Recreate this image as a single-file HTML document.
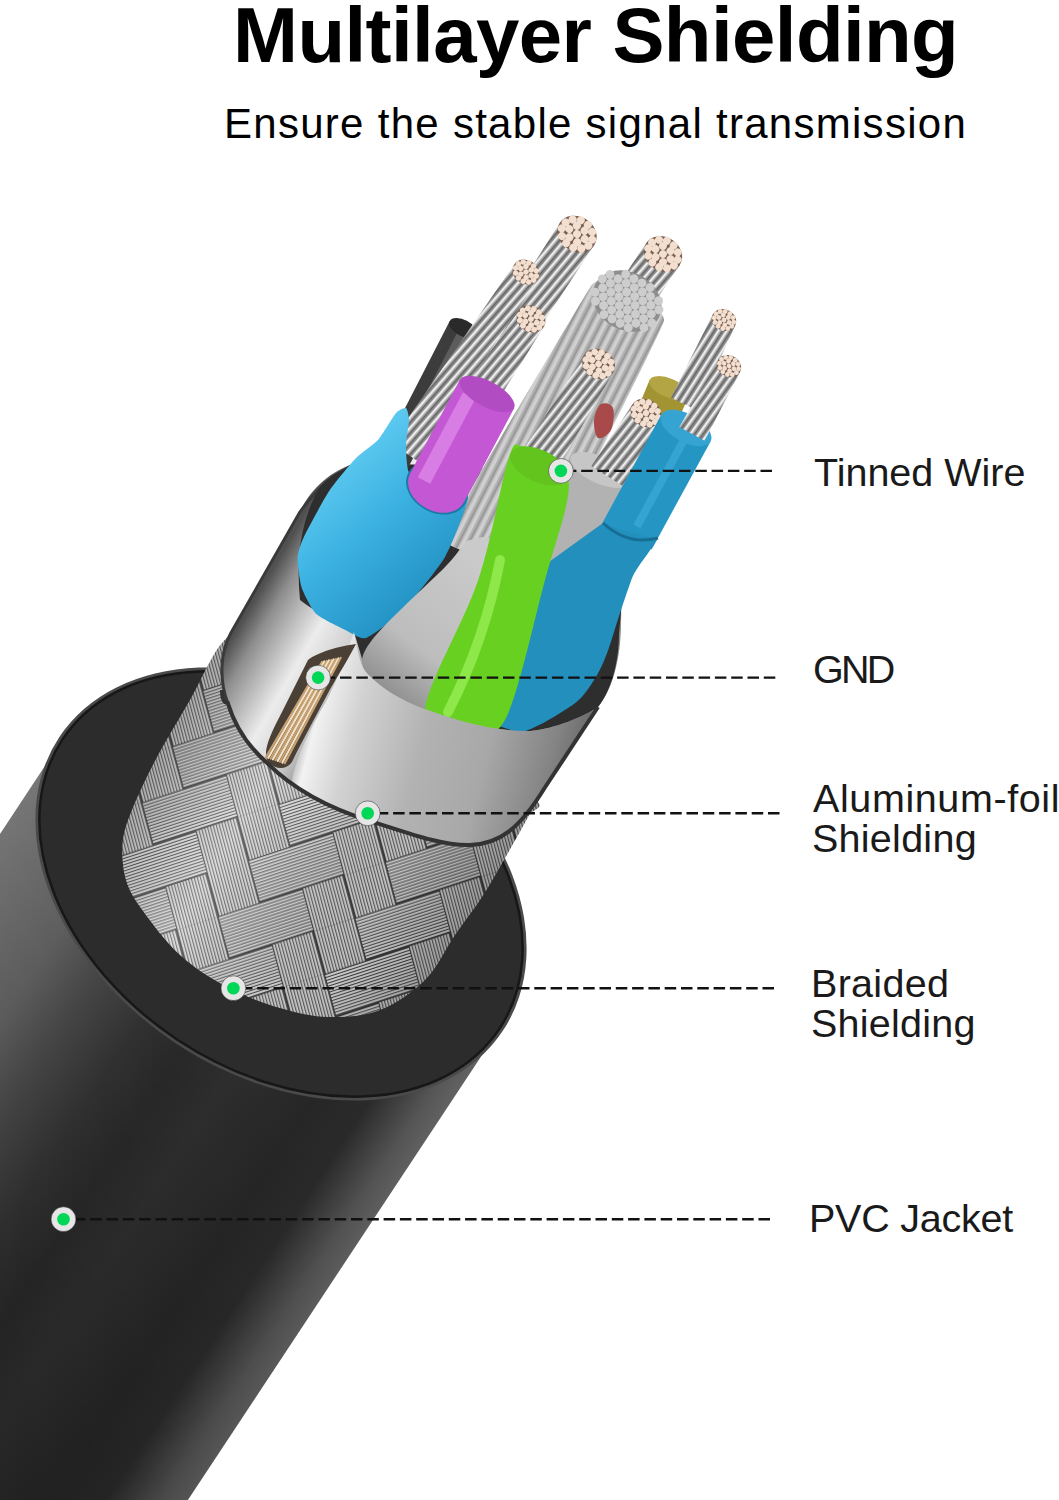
<!DOCTYPE html><html><head><meta charset="utf-8"><style>
html,body{margin:0;padding:0;background:#fff;width:1059px;height:1500px;overflow:hidden;position:relative}
.t,.l{position:absolute;white-space:nowrap;font-family:"Liberation Sans",sans-serif;line-height:1}
.t{color:#000}
.l{font-size:39.5px;line-height:40px;color:#1a1a1a}
</style></head><body>
<svg width="1059" height="1500" viewBox="0 0 1059 1500" style="position:absolute;left:0;top:0"><defs><linearGradient id="gJ" gradientUnits="userSpaceOnUse" x1="62.4" y1="739.5" x2="499.6" y2="1028.5">
<stop offset="0" stop-color="#787878"/><stop offset="0.2" stop-color="#626262"/><stop offset="0.3" stop-color="#4a4a4a"/><stop offset="0.42" stop-color="#343434"/>
<stop offset="0.52" stop-color="#2a2a2a"/><stop offset="0.62" stop-color="#303030"/><stop offset="0.78" stop-color="#282828"/>
<stop offset="0.87" stop-color="#2c2c2c"/><stop offset="0.96" stop-color="#585858"/><stop offset="1" stop-color="#646464"/></linearGradient><linearGradient id="gJv" gradientUnits="userSpaceOnUse" x1="281" y1="884" x2="-105.1" y2="1467.9">
<stop offset="0" stop-color="#000" stop-opacity="0"/><stop offset="1" stop-color="#000" stop-opacity="0.2"/></linearGradient><pattern id="pW" patternUnits="userSpaceOnUse" width="176" height="176" patternTransform="matrix(0.95 -0.31 0.26 0.966 20 10)">
<rect width="176" height="176" fill="#3c3c3c"/>
<g fill="#dcdcdc"><rect x="0" y="1.2" width="44" height="2"/><rect x="0" y="4.2" width="44" height="2"/><rect x="0" y="7.2" width="44" height="2"/><rect x="0" y="10.2" width="44" height="2"/><rect x="0" y="13.2" width="44" height="2"/><rect x="0" y="16.2" width="44" height="2"/><rect x="0" y="19.2" width="44" height="2"/><rect x="0" y="22.2" width="44" height="2"/><rect x="0" y="25.2" width="44" height="2"/><rect x="0" y="28.2" width="44" height="2"/><rect x="0" y="31.2" width="44" height="2"/><rect x="0" y="34.2" width="44" height="2"/><rect x="0" y="37.2" width="44" height="2"/><rect x="0" y="40.2" width="44" height="2"/><rect x="0" y="45.2" width="44" height="2"/><rect x="0" y="48.2" width="44" height="2"/><rect x="0" y="51.2" width="44" height="2"/><rect x="0" y="54.2" width="44" height="2"/><rect x="0" y="57.2" width="44" height="2"/><rect x="0" y="60.2" width="44" height="2"/><rect x="0" y="63.2" width="44" height="2"/><rect x="0" y="66.2" width="44" height="2"/><rect x="0" y="69.2" width="44" height="2"/><rect x="0" y="72.2" width="44" height="2"/><rect x="0" y="75.2" width="44" height="2"/><rect x="0" y="78.2" width="44" height="2"/><rect x="0" y="81.2" width="44" height="2"/><rect x="0" y="84.2" width="44" height="2"/><rect x="1.2" y="88" width="2" height="44"/><rect x="4.2" y="88" width="2" height="44"/><rect x="7.2" y="88" width="2" height="44"/><rect x="10.2" y="88" width="2" height="44"/><rect x="13.2" y="88" width="2" height="44"/><rect x="16.2" y="88" width="2" height="44"/><rect x="19.2" y="88" width="2" height="44"/><rect x="22.2" y="88" width="2" height="44"/><rect x="25.2" y="88" width="2" height="44"/><rect x="28.2" y="88" width="2" height="44"/><rect x="31.2" y="88" width="2" height="44"/><rect x="34.2" y="88" width="2" height="44"/><rect x="37.2" y="88" width="2" height="44"/><rect x="40.2" y="88" width="2" height="44"/><rect x="1.2" y="132" width="2" height="44"/><rect x="4.2" y="132" width="2" height="44"/><rect x="7.2" y="132" width="2" height="44"/><rect x="10.2" y="132" width="2" height="44"/><rect x="13.2" y="132" width="2" height="44"/><rect x="16.2" y="132" width="2" height="44"/><rect x="19.2" y="132" width="2" height="44"/><rect x="22.2" y="132" width="2" height="44"/><rect x="25.2" y="132" width="2" height="44"/><rect x="28.2" y="132" width="2" height="44"/><rect x="31.2" y="132" width="2" height="44"/><rect x="34.2" y="132" width="2" height="44"/><rect x="37.2" y="132" width="2" height="44"/><rect x="40.2" y="132" width="2" height="44"/><rect x="44" y="1.2" width="44" height="2"/><rect x="44" y="4.2" width="44" height="2"/><rect x="44" y="7.2" width="44" height="2"/><rect x="44" y="10.2" width="44" height="2"/><rect x="44" y="13.2" width="44" height="2"/><rect x="44" y="16.2" width="44" height="2"/><rect x="44" y="19.2" width="44" height="2"/><rect x="44" y="22.2" width="44" height="2"/><rect x="44" y="25.2" width="44" height="2"/><rect x="44" y="28.2" width="44" height="2"/><rect x="44" y="31.2" width="44" height="2"/><rect x="44" y="34.2" width="44" height="2"/><rect x="44" y="37.2" width="44" height="2"/><rect x="44" y="40.2" width="44" height="2"/><rect x="45.2" y="44" width="2" height="44"/><rect x="48.2" y="44" width="2" height="44"/><rect x="51.2" y="44" width="2" height="44"/><rect x="54.2" y="44" width="2" height="44"/><rect x="57.2" y="44" width="2" height="44"/><rect x="60.2" y="44" width="2" height="44"/><rect x="63.2" y="44" width="2" height="44"/><rect x="66.2" y="44" width="2" height="44"/><rect x="69.2" y="44" width="2" height="44"/><rect x="72.2" y="44" width="2" height="44"/><rect x="75.2" y="44" width="2" height="44"/><rect x="78.2" y="44" width="2" height="44"/><rect x="81.2" y="44" width="2" height="44"/><rect x="84.2" y="44" width="2" height="44"/><rect x="45.2" y="88" width="2" height="44"/><rect x="48.2" y="88" width="2" height="44"/><rect x="51.2" y="88" width="2" height="44"/><rect x="54.2" y="88" width="2" height="44"/><rect x="57.2" y="88" width="2" height="44"/><rect x="60.2" y="88" width="2" height="44"/><rect x="63.2" y="88" width="2" height="44"/><rect x="66.2" y="88" width="2" height="44"/><rect x="69.2" y="88" width="2" height="44"/><rect x="72.2" y="88" width="2" height="44"/><rect x="75.2" y="88" width="2" height="44"/><rect x="78.2" y="88" width="2" height="44"/><rect x="81.2" y="88" width="2" height="44"/><rect x="84.2" y="88" width="2" height="44"/><rect x="44" y="133.2" width="44" height="2"/><rect x="44" y="136.2" width="44" height="2"/><rect x="44" y="139.2" width="44" height="2"/><rect x="44" y="142.2" width="44" height="2"/><rect x="44" y="145.2" width="44" height="2"/><rect x="44" y="148.2" width="44" height="2"/><rect x="44" y="151.2" width="44" height="2"/><rect x="44" y="154.2" width="44" height="2"/><rect x="44" y="157.2" width="44" height="2"/><rect x="44" y="160.2" width="44" height="2"/><rect x="44" y="163.2" width="44" height="2"/><rect x="44" y="166.2" width="44" height="2"/><rect x="44" y="169.2" width="44" height="2"/><rect x="44" y="172.2" width="44" height="2"/><rect x="89.2" y="0" width="2" height="44"/><rect x="92.2" y="0" width="2" height="44"/><rect x="95.2" y="0" width="2" height="44"/><rect x="98.2" y="0" width="2" height="44"/><rect x="101.2" y="0" width="2" height="44"/><rect x="104.2" y="0" width="2" height="44"/><rect x="107.2" y="0" width="2" height="44"/><rect x="110.2" y="0" width="2" height="44"/><rect x="113.2" y="0" width="2" height="44"/><rect x="116.2" y="0" width="2" height="44"/><rect x="119.2" y="0" width="2" height="44"/><rect x="122.2" y="0" width="2" height="44"/><rect x="125.2" y="0" width="2" height="44"/><rect x="128.2" y="0" width="2" height="44"/><rect x="89.2" y="44" width="2" height="44"/><rect x="92.2" y="44" width="2" height="44"/><rect x="95.2" y="44" width="2" height="44"/><rect x="98.2" y="44" width="2" height="44"/><rect x="101.2" y="44" width="2" height="44"/><rect x="104.2" y="44" width="2" height="44"/><rect x="107.2" y="44" width="2" height="44"/><rect x="110.2" y="44" width="2" height="44"/><rect x="113.2" y="44" width="2" height="44"/><rect x="116.2" y="44" width="2" height="44"/><rect x="119.2" y="44" width="2" height="44"/><rect x="122.2" y="44" width="2" height="44"/><rect x="125.2" y="44" width="2" height="44"/><rect x="128.2" y="44" width="2" height="44"/><rect x="88" y="89.2" width="44" height="2"/><rect x="88" y="92.2" width="44" height="2"/><rect x="88" y="95.2" width="44" height="2"/><rect x="88" y="98.2" width="44" height="2"/><rect x="88" y="101.2" width="44" height="2"/><rect x="88" y="104.2" width="44" height="2"/><rect x="88" y="107.2" width="44" height="2"/><rect x="88" y="110.2" width="44" height="2"/><rect x="88" y="113.2" width="44" height="2"/><rect x="88" y="116.2" width="44" height="2"/><rect x="88" y="119.2" width="44" height="2"/><rect x="88" y="122.2" width="44" height="2"/><rect x="88" y="125.2" width="44" height="2"/><rect x="88" y="128.2" width="44" height="2"/><rect x="88" y="133.2" width="44" height="2"/><rect x="88" y="136.2" width="44" height="2"/><rect x="88" y="139.2" width="44" height="2"/><rect x="88" y="142.2" width="44" height="2"/><rect x="88" y="145.2" width="44" height="2"/><rect x="88" y="148.2" width="44" height="2"/><rect x="88" y="151.2" width="44" height="2"/><rect x="88" y="154.2" width="44" height="2"/><rect x="88" y="157.2" width="44" height="2"/><rect x="88" y="160.2" width="44" height="2"/><rect x="88" y="163.2" width="44" height="2"/><rect x="88" y="166.2" width="44" height="2"/><rect x="88" y="169.2" width="44" height="2"/><rect x="88" y="172.2" width="44" height="2"/><rect x="133.2" y="0" width="2" height="44"/><rect x="136.2" y="0" width="2" height="44"/><rect x="139.2" y="0" width="2" height="44"/><rect x="142.2" y="0" width="2" height="44"/><rect x="145.2" y="0" width="2" height="44"/><rect x="148.2" y="0" width="2" height="44"/><rect x="151.2" y="0" width="2" height="44"/><rect x="154.2" y="0" width="2" height="44"/><rect x="157.2" y="0" width="2" height="44"/><rect x="160.2" y="0" width="2" height="44"/><rect x="163.2" y="0" width="2" height="44"/><rect x="166.2" y="0" width="2" height="44"/><rect x="169.2" y="0" width="2" height="44"/><rect x="172.2" y="0" width="2" height="44"/><rect x="132" y="45.2" width="44" height="2"/><rect x="132" y="48.2" width="44" height="2"/><rect x="132" y="51.2" width="44" height="2"/><rect x="132" y="54.2" width="44" height="2"/><rect x="132" y="57.2" width="44" height="2"/><rect x="132" y="60.2" width="44" height="2"/><rect x="132" y="63.2" width="44" height="2"/><rect x="132" y="66.2" width="44" height="2"/><rect x="132" y="69.2" width="44" height="2"/><rect x="132" y="72.2" width="44" height="2"/><rect x="132" y="75.2" width="44" height="2"/><rect x="132" y="78.2" width="44" height="2"/><rect x="132" y="81.2" width="44" height="2"/><rect x="132" y="84.2" width="44" height="2"/><rect x="132" y="89.2" width="44" height="2"/><rect x="132" y="92.2" width="44" height="2"/><rect x="132" y="95.2" width="44" height="2"/><rect x="132" y="98.2" width="44" height="2"/><rect x="132" y="101.2" width="44" height="2"/><rect x="132" y="104.2" width="44" height="2"/><rect x="132" y="107.2" width="44" height="2"/><rect x="132" y="110.2" width="44" height="2"/><rect x="132" y="113.2" width="44" height="2"/><rect x="132" y="116.2" width="44" height="2"/><rect x="132" y="119.2" width="44" height="2"/><rect x="132" y="122.2" width="44" height="2"/><rect x="132" y="125.2" width="44" height="2"/><rect x="132" y="128.2" width="44" height="2"/><rect x="133.2" y="132" width="2" height="44"/><rect x="136.2" y="132" width="2" height="44"/><rect x="139.2" y="132" width="2" height="44"/><rect x="142.2" y="132" width="2" height="44"/><rect x="145.2" y="132" width="2" height="44"/><rect x="148.2" y="132" width="2" height="44"/><rect x="151.2" y="132" width="2" height="44"/><rect x="154.2" y="132" width="2" height="44"/><rect x="157.2" y="132" width="2" height="44"/><rect x="160.2" y="132" width="2" height="44"/><rect x="163.2" y="132" width="2" height="44"/><rect x="166.2" y="132" width="2" height="44"/><rect x="169.2" y="132" width="2" height="44"/><rect x="172.2" y="132" width="2" height="44"/></g></pattern><linearGradient id="gBs" gradientUnits="userSpaceOnUse" x1="120" y1="760" x2="540" y2="1000">
<stop offset="0" stop-color="#000" stop-opacity="0.25"/><stop offset="0.28" stop-color="#fff" stop-opacity="0.22"/><stop offset="0.6" stop-color="#000" stop-opacity="0.08"/><stop offset="1" stop-color="#000" stop-opacity="0.45"/></linearGradient><linearGradient id="gT" gradientUnits="userSpaceOnUse" x1="228" y1="645" x2="348" y2="715">
<stop offset="0" stop-color="#505050"/><stop offset="0.15" stop-color="#8e8e8e"/><stop offset="0.5" stop-color="#ececec"/><stop offset="0.75" stop-color="#d0d0d0"/><stop offset="1" stop-color="#8a8a8a"/></linearGradient><pattern id="pS" patternUnits="userSpaceOnUse" width="7" height="40" patternTransform="rotate(7)">
<rect width="7" height="40" fill="#959595"/><rect x="0" width="2.4" height="40" fill="#ececec"/><rect x="4.2" width="1.1" height="40" fill="#555"/></pattern><pattern id="pE" patternUnits="userSpaceOnUse" width="9" height="40" patternTransform="rotate(27)">
<rect width="9" height="40" fill="#b2b2b2"/><rect x="0.5" width="3.5" height="40" fill="#d0d0d0"/><rect x="6.5" width="1.2" height="40" fill="#8a8a8a"/></pattern><linearGradient id="gBl" gradientUnits="userSpaceOnUse" x1="320" y1="450" x2="450" y2="600">
<stop offset="0" stop-color="#66d0f4"/><stop offset="0.45" stop-color="#3cb2e2"/><stop offset="1" stop-color="#1d8cbd"/></linearGradient><linearGradient id="gLG" gradientUnits="userSpaceOnUse" x1="380" y1="690" x2="480" y2="560"><stop offset="0" stop-color="#8e8e8e"/><stop offset="0.35" stop-color="#bdbdbd"/><stop offset="1" stop-color="#cacaca"/></linearGradient><linearGradient id="gFf" gradientUnits="userSpaceOnUse" x1="290" y1="720" x2="600" y2="800">
<stop offset="0" stop-color="#7a7a7a"/><stop offset="0.08" stop-color="#f2f2f2"/><stop offset="0.2" stop-color="#d2d2d2"/><stop offset="0.42" stop-color="#b2b2b2"/>
<stop offset="0.62" stop-color="#a8a8a8"/><stop offset="0.82" stop-color="#848484"/><stop offset="1" stop-color="#555"/></linearGradient></defs><path d="M62.4,739.5 L499.6,1028.5 L3.2,1779.3 L-433.9,1490.3Z" fill="url(#gJ)"/><path d="M62.4,739.5 L499.6,1028.5 L3.2,1779.3 L-433.9,1490.3Z" fill="url(#gJv)"/><ellipse cx="281" cy="884" rx="266" ry="191" transform="rotate(33.5 281 884)" fill="#4a4a4a" /><ellipse cx="281" cy="884" rx="262" ry="187" transform="rotate(33.5 281 884)" fill="#2c2c2c" stroke="#171717" stroke-width="2.5"/><path d="M262,630 C249.4,620 236.6,628.3 224.6,640 C212.6,651.7 201.3,680.3 190,700 C178.7,719.7 166.3,739.7 156.6,758 C146.9,776.3 137.7,795.8 132,810 C126.3,824.2 123.7,831.3 122.7,843 C121.7,854.7 122.6,868.7 126,880 C129.4,891.3 134,898.5 143,911 C152,923.5 166,942.3 180,955 C194,967.7 210.3,978.2 227,987 C243.7,995.8 263,1003 280,1008 C297,1013 312.3,1016.7 329,1017 C345.7,1017.3 364,1016.2 380,1010 C396,1003.8 412.5,992.5 425,980 C437.5,967.5 445.5,948.8 455,935 C464.5,921.2 473.7,909.8 482,897 C490.3,884.2 497.3,871.3 505,858 C512.7,844.7 522.8,826.7 528,817 C533.2,807.3 545.7,809.5 536,800 C526.3,790.5 509.3,776.7 470,760 C430.7,743.3 334.7,721.7 300,700 C265.3,678.3 274.6,640 262,630Z" fill="url(#pW)" /><path d="M262,630 C249.4,620 236.6,628.3 224.6,640 C212.6,651.7 201.3,680.3 190,700 C178.7,719.7 166.3,739.7 156.6,758 C146.9,776.3 137.7,795.8 132,810 C126.3,824.2 123.7,831.3 122.7,843 C121.7,854.7 122.6,868.7 126,880 C129.4,891.3 134,898.5 143,911 C152,923.5 166,942.3 180,955 C194,967.7 210.3,978.2 227,987 C243.7,995.8 263,1003 280,1008 C297,1013 312.3,1016.7 329,1017 C345.7,1017.3 364,1016.2 380,1010 C396,1003.8 412.5,992.5 425,980 C437.5,967.5 445.5,948.8 455,935 C464.5,921.2 473.7,909.8 482,897 C490.3,884.2 497.3,871.3 505,858 C512.7,844.7 522.8,826.7 528,817 C533.2,807.3 545.7,809.5 536,800 C526.3,790.5 509.3,776.7 470,760 C430.7,743.3 334.7,721.7 300,700 C265.3,678.3 274.6,640 262,630Z" fill="url(#gBs)" /><path d="M357.9,462.5 C330,470 310,490 299.7,512.3 L231,632.8 C220,652 219,680 227.8,703 C236,730 250,748 267,762.8 C290,786 325,807 371,821.3 C400,830 440,846 470,845 C500,844 520,828 544.6,788 L598,707 C612,690 621,660 621,622 C622,600 620,580 610,560 C585,520 520,470 440,458 C400,453 375,456 357.9,462.5 Z" fill="url(#gT)"/><path d="M380,457 C360,460 330,470 299.7,512.3 L231,632.8 C220,652 219,680 227.8,703" fill="none" stroke="#3a3a3a" stroke-width="3"/><path d="M300,600 C296,560 300,520 320,487 C335,470 350,466 362,466 C420,460 500,468 553,496 C595,520 621,560 622,600 L619,634 C619,660 612,690 598,707 C585,716 555,729 530,731 C500,732 460,722 431,711 C400,697 370,680 366,672 L354,632 C340,625 315,612 300,600 Z" fill="#2e2e2e"/><g transform="translate(463,328) rotate(27.2)"><rect x="-15" y="0" width="30" height="159.7" fill="#3c3c3c"/><rect x="-3" y="6" width="8" height="150" fill="#5c5c5c"/><ellipse rx="15" ry="8.2" fill="#2a2a2a"/></g><g transform="translate(577,234) rotate(32.9)"><path d="M-20.5,0 L20.5,0 L19.5,128.7 L-19.5,128.7 Z" fill="url(#pS)"/><ellipse rx="20.5" ry="17.4" fill="#7a5e50"/><circle cx="0" cy="0" r="4" fill="#f2dfcf"/><circle cx="9.2" cy="0" r="4" fill="#f2dfcf"/><circle cx="4.6" cy="6.8" r="4" fill="#f2dfcf"/><circle cx="-4.6" cy="6.8" r="4" fill="#f2dfcf"/><circle cx="-9.2" cy="0" r="4" fill="#f2dfcf"/><circle cx="-4.6" cy="-6.8" r="4" fill="#f2dfcf"/><circle cx="4.6" cy="-6.8" r="4" fill="#f2dfcf"/><circle cx="15.8" cy="3.6" r="4" fill="#f2dfcf"/><circle cx="11.6" cy="9.8" r="4" fill="#f2dfcf"/><circle cx="4.3" cy="13.5" r="4" fill="#f2dfcf"/><circle cx="-4.2" cy="13.5" r="4" fill="#f2dfcf"/><circle cx="-11.6" cy="9.9" r="4" fill="#f2dfcf"/><circle cx="-15.8" cy="3.6" r="4" fill="#f2dfcf"/><circle cx="-15.8" cy="-3.6" r="4" fill="#f2dfcf"/><circle cx="-11.6" cy="-9.8" r="4" fill="#f2dfcf"/><circle cx="-4.3" cy="-13.5" r="4" fill="#f2dfcf"/><circle cx="4.2" cy="-13.5" r="4" fill="#f2dfcf"/><circle cx="11.6" cy="-9.9" r="4" fill="#f2dfcf"/><circle cx="15.8" cy="-3.6" r="4" fill="#f2dfcf"/></g><g transform="translate(663,254) rotate(33.9)"><path d="M-20,0 L20,0 L20,69.9 L-20,69.9 Z" fill="url(#pS)"/><ellipse rx="20" ry="17" fill="#7a5e50"/><circle cx="0" cy="0" r="3.9" fill="#f2dfcf"/><circle cx="9" cy="0" r="3.9" fill="#f2dfcf"/><circle cx="4.5" cy="6.6" r="3.9" fill="#f2dfcf"/><circle cx="-4.5" cy="6.6" r="3.9" fill="#f2dfcf"/><circle cx="-9" cy="0" r="3.9" fill="#f2dfcf"/><circle cx="-4.5" cy="-6.6" r="3.9" fill="#f2dfcf"/><circle cx="4.5" cy="-6.6" r="3.9" fill="#f2dfcf"/><circle cx="15.5" cy="3.5" r="3.9" fill="#f2dfcf"/><circle cx="11.3" cy="9.6" r="3.9" fill="#f2dfcf"/><circle cx="4.2" cy="13.1" r="3.9" fill="#f2dfcf"/><circle cx="-4.1" cy="13.1" r="3.9" fill="#f2dfcf"/><circle cx="-11.3" cy="9.6" r="3.9" fill="#f2dfcf"/><circle cx="-15.4" cy="3.5" r="3.9" fill="#f2dfcf"/><circle cx="-15.5" cy="-3.5" r="3.9" fill="#f2dfcf"/><circle cx="-11.3" cy="-9.6" r="3.9" fill="#f2dfcf"/><circle cx="-4.2" cy="-13.1" r="3.9" fill="#f2dfcf"/><circle cx="4.1" cy="-13.1" r="3.9" fill="#f2dfcf"/><circle cx="11.3" cy="-9.6" r="3.9" fill="#f2dfcf"/><circle cx="15.4" cy="-3.5" r="3.9" fill="#f2dfcf"/></g><path d="M591,286 C597.1,277.1 624.6,270.8 627,272 C629.4,273.2 666.2,312.4 664,321 C661.8,329.6 565.5,522 560,530 C554.5,538 503.9,559.7 500,560 C496.1,560.3 440,547.1 443,538 C446,528.9 584.9,294.9 591,286Z" fill="url(#pE)" /><g transform="translate(627,301) rotate(28.5)"><ellipse rx="36" ry="29" fill="#8e8e8e"/><circle cx="-13.8" cy="-22.8" r="4.5" fill="#cdcdcd"/><circle cx="-4.6" cy="-22.8" r="4.5" fill="#cdcdcd"/><circle cx="4.6" cy="-22.8" r="4.5" fill="#cdcdcd"/><circle cx="13.8" cy="-22.8" r="4.5" fill="#cdcdcd"/><circle cx="-27.6" cy="-15.2" r="4.5" fill="#cdcdcd"/><circle cx="-18.4" cy="-15.2" r="4.5" fill="#cdcdcd"/><circle cx="-9.2" cy="-15.2" r="4.5" fill="#cdcdcd"/><circle cx="0" cy="-15.2" r="4.5" fill="#cdcdcd"/><circle cx="9.2" cy="-15.2" r="4.5" fill="#cdcdcd"/><circle cx="18.4" cy="-15.2" r="4.5" fill="#cdcdcd"/><circle cx="27.6" cy="-15.2" r="4.5" fill="#cdcdcd"/><circle cx="-32.2" cy="-7.6" r="4.5" fill="#cdcdcd"/><circle cx="-23" cy="-7.6" r="4.5" fill="#cdcdcd"/><circle cx="-13.8" cy="-7.6" r="4.5" fill="#cdcdcd"/><circle cx="-4.6" cy="-7.6" r="4.5" fill="#cdcdcd"/><circle cx="4.6" cy="-7.6" r="4.5" fill="#cdcdcd"/><circle cx="13.8" cy="-7.6" r="4.5" fill="#cdcdcd"/><circle cx="23" cy="-7.6" r="4.5" fill="#cdcdcd"/><circle cx="32.2" cy="-7.6" r="4.5" fill="#cdcdcd"/><circle cx="-27.6" cy="0" r="4.5" fill="#cdcdcd"/><circle cx="-18.4" cy="0" r="4.5" fill="#cdcdcd"/><circle cx="-9.2" cy="0" r="4.5" fill="#cdcdcd"/><circle cx="0" cy="0" r="4.5" fill="#cdcdcd"/><circle cx="9.2" cy="0" r="4.5" fill="#cdcdcd"/><circle cx="18.4" cy="0" r="4.5" fill="#cdcdcd"/><circle cx="27.6" cy="0" r="4.5" fill="#cdcdcd"/><circle cx="-32.2" cy="7.6" r="4.5" fill="#cdcdcd"/><circle cx="-23" cy="7.6" r="4.5" fill="#cdcdcd"/><circle cx="-13.8" cy="7.6" r="4.5" fill="#cdcdcd"/><circle cx="-4.6" cy="7.6" r="4.5" fill="#cdcdcd"/><circle cx="4.6" cy="7.6" r="4.5" fill="#cdcdcd"/><circle cx="13.8" cy="7.6" r="4.5" fill="#cdcdcd"/><circle cx="23" cy="7.6" r="4.5" fill="#cdcdcd"/><circle cx="32.2" cy="7.6" r="4.5" fill="#cdcdcd"/><circle cx="-27.6" cy="15.2" r="4.5" fill="#cdcdcd"/><circle cx="-18.4" cy="15.2" r="4.5" fill="#cdcdcd"/><circle cx="-9.2" cy="15.2" r="4.5" fill="#cdcdcd"/><circle cx="0" cy="15.2" r="4.5" fill="#cdcdcd"/><circle cx="9.2" cy="15.2" r="4.5" fill="#cdcdcd"/><circle cx="18.4" cy="15.2" r="4.5" fill="#cdcdcd"/><circle cx="27.6" cy="15.2" r="4.5" fill="#cdcdcd"/><circle cx="-13.8" cy="22.8" r="4.5" fill="#cdcdcd"/><circle cx="-4.6" cy="22.8" r="4.5" fill="#cdcdcd"/><circle cx="4.6" cy="22.8" r="4.5" fill="#cdcdcd"/><circle cx="13.8" cy="22.8" r="4.5" fill="#cdcdcd"/></g><g transform="translate(526,272) rotate(34.1)"><path d="M-14,0 L14,0 L16.1,217.4 L-16.1,217.4 Z" fill="url(#pS)"/><ellipse rx="14" ry="11.9" fill="#7a5e50"/><circle cx="0" cy="0" r="2.7" fill="#f2dfcf"/><circle cx="6.3" cy="0" r="2.7" fill="#f2dfcf"/><circle cx="3.2" cy="4.6" r="2.7" fill="#f2dfcf"/><circle cx="-3.1" cy="4.6" r="2.7" fill="#f2dfcf"/><circle cx="-6.3" cy="0" r="2.7" fill="#f2dfcf"/><circle cx="-3.2" cy="-4.6" r="2.7" fill="#f2dfcf"/><circle cx="3.2" cy="-4.6" r="2.7" fill="#f2dfcf"/><circle cx="10.8" cy="2.4" r="2.7" fill="#f2dfcf"/><circle cx="7.9" cy="6.7" r="2.7" fill="#f2dfcf"/><circle cx="2.9" cy="9.2" r="2.7" fill="#f2dfcf"/><circle cx="-2.9" cy="9.2" r="2.7" fill="#f2dfcf"/><circle cx="-7.9" cy="6.7" r="2.7" fill="#f2dfcf"/><circle cx="-10.8" cy="2.5" r="2.7" fill="#f2dfcf"/><circle cx="-10.8" cy="-2.4" r="2.7" fill="#f2dfcf"/><circle cx="-7.9" cy="-6.7" r="2.7" fill="#f2dfcf"/><circle cx="-2.9" cy="-9.2" r="2.7" fill="#f2dfcf"/><circle cx="2.9" cy="-9.2" r="2.7" fill="#f2dfcf"/><circle cx="7.9" cy="-6.7" r="2.7" fill="#f2dfcf"/><circle cx="10.8" cy="-2.5" r="2.7" fill="#f2dfcf"/></g><g transform="translate(531,319) rotate(33.3)"><path d="M-15,0 L15,0 L17.2,91 L-17.2,91 Z" fill="url(#pS)"/><ellipse rx="15" ry="12.8" fill="#7a5e50"/><circle cx="0" cy="0" r="2.9" fill="#f2dfcf"/><circle cx="6.8" cy="0" r="2.9" fill="#f2dfcf"/><circle cx="3.4" cy="5" r="2.9" fill="#f2dfcf"/><circle cx="-3.4" cy="5" r="2.9" fill="#f2dfcf"/><circle cx="-6.8" cy="0" r="2.9" fill="#f2dfcf"/><circle cx="-3.4" cy="-5" r="2.9" fill="#f2dfcf"/><circle cx="3.4" cy="-5" r="2.9" fill="#f2dfcf"/><circle cx="11.6" cy="2.6" r="2.9" fill="#f2dfcf"/><circle cx="8.5" cy="7.2" r="2.9" fill="#f2dfcf"/><circle cx="3.1" cy="9.8" r="2.9" fill="#f2dfcf"/><circle cx="-3.1" cy="9.9" r="2.9" fill="#f2dfcf"/><circle cx="-8.5" cy="7.2" r="2.9" fill="#f2dfcf"/><circle cx="-11.6" cy="2.7" r="2.9" fill="#f2dfcf"/><circle cx="-11.6" cy="-2.6" r="2.9" fill="#f2dfcf"/><circle cx="-8.5" cy="-7.2" r="2.9" fill="#f2dfcf"/><circle cx="-3.1" cy="-9.8" r="2.9" fill="#f2dfcf"/><circle cx="3.1" cy="-9.9" r="2.9" fill="#f2dfcf"/><circle cx="8.5" cy="-7.2" r="2.9" fill="#f2dfcf"/><circle cx="11.6" cy="-2.7" r="2.9" fill="#f2dfcf"/></g><g transform="translate(669,388) rotate(22.4)"><rect x="-21" y="0" width="42" height="36.8" fill="#a39433"/><ellipse rx="21" ry="9.5" fill="#b4a544"/></g><path d="M601,404 C604.2,402 611.3,403.7 613,408 C614.7,412.3 613.5,425 611,430 C608.5,435 600.8,439.7 598,438 C595.2,436.3 593.5,425.7 594,420 C594.5,414.3 597.8,406 601,404Z" fill="#a84a4a" /><path d="M396,413 C398.8,409.8 404.7,407.3 406,408 C407.3,408.7 409,416.3 409,420 C409,423.7 406.1,440 406,445 C405.9,450 406.6,465 408,470 C409.4,475 417.1,491.5 420,495 C422.9,498.5 432.2,504.8 437,505 C441.8,505.2 467.2,491.8 468,497 C468.8,502.2 451.6,545.6 445,557 C438.4,568.4 410.4,602.7 402.5,610.8 C394.6,618.9 371.7,636.1 366,638 C360.3,639.9 350.4,632.4 345.4,630 C340.4,627.6 320.7,618.2 316.3,614 C311.9,609.8 303.7,593.6 301.8,588 C299.9,582.4 297.4,563.1 297.6,558 C297.8,552.9 300.8,543.6 303.9,537 C307,530.4 323.6,499.4 328.8,491.5 C334,483.6 351.1,463.1 356,458 C360.9,452.9 374,444.5 378,440 C382,435.5 393.2,416.2 396,413Z" fill="url(#gBl)" /><g transform="translate(487,394) rotate(28)"><rect x="-30.5" y="0" width="61" height="106.5" fill="#c458d4"/><ellipse cx="0" cy="106.5" rx="30.5" ry="22.9" fill="#c458d4"/><ellipse cx="0" cy="106.5" rx="31" ry="23" fill="none" stroke="#1a7aa3" stroke-width="3"/></g><g transform="translate(487,394) rotate(28)"><rect x="-30.5" y="0" width="61" height="106.5" fill="#c458d4"/><ellipse cx="0" cy="106.5" rx="30.5" ry="22.9" fill="#c458d4"/><rect x="-22" y="10" width="14" height="96" fill="#d77de3"/><ellipse rx="30.5" ry="12.8" fill="#b24cc2"/></g><g transform="translate(598.6,364) rotate(31.4)"><path d="M-17,0 L17,0 L19.5,121.9 L-19.5,121.9 Z" fill="url(#pS)"/><ellipse rx="17" ry="14.4" fill="#7a5e50"/><circle cx="0" cy="0" r="3.3" fill="#f2dfcf"/><circle cx="7.6" cy="0" r="3.3" fill="#f2dfcf"/><circle cx="3.8" cy="5.6" r="3.3" fill="#f2dfcf"/><circle cx="-3.8" cy="5.6" r="3.3" fill="#f2dfcf"/><circle cx="-7.6" cy="0" r="3.3" fill="#f2dfcf"/><circle cx="-3.8" cy="-5.6" r="3.3" fill="#f2dfcf"/><circle cx="3.8" cy="-5.6" r="3.3" fill="#f2dfcf"/><circle cx="13.1" cy="3" r="3.3" fill="#f2dfcf"/><circle cx="9.6" cy="8.2" r="3.3" fill="#f2dfcf"/><circle cx="3.5" cy="11.2" r="3.3" fill="#f2dfcf"/><circle cx="-3.5" cy="11.2" r="3.3" fill="#f2dfcf"/><circle cx="-9.6" cy="8.2" r="3.3" fill="#f2dfcf"/><circle cx="-13.1" cy="3" r="3.3" fill="#f2dfcf"/><circle cx="-13.1" cy="-3" r="3.3" fill="#f2dfcf"/><circle cx="-9.6" cy="-8.2" r="3.3" fill="#f2dfcf"/><circle cx="-3.5" cy="-11.2" r="3.3" fill="#f2dfcf"/><circle cx="3.5" cy="-11.2" r="3.3" fill="#f2dfcf"/><circle cx="9.6" cy="-8.2" r="3.3" fill="#f2dfcf"/><circle cx="13.1" cy="-3" r="3.3" fill="#f2dfcf"/></g><path d="M470,540 C477.7,538.3 496.7,528.5 492,556 C487.3,583.5 458.7,682 442,705 C425.3,728 404.8,699.5 392,694 C379.2,688.5 368.3,681 365,672 C361.7,663 358.5,657.7 372,640 C385.5,622.3 429.7,582.7 446,566 C462.3,549.3 462.3,541.7 470,540Z" fill="url(#gLG)" /><g transform="translate(600,470) rotate(24.6)"><rect x="-32" y="0" width="64" height="115.5" fill="#b2b2b2"/><ellipse rx="32" ry="13.4" fill="#c6c6c6"/></g><g transform="translate(646,413) rotate(31.8)"><path d="M-16,0 L16,0 L18.4,74.1 L-18.4,74.1 Z" fill="url(#pS)"/><ellipse rx="16" ry="13.6" fill="#7a5e50"/><circle cx="0" cy="0" r="3.1" fill="#f2dfcf"/><circle cx="7.2" cy="0" r="3.1" fill="#f2dfcf"/><circle cx="3.6" cy="5.3" r="3.1" fill="#f2dfcf"/><circle cx="-3.6" cy="5.3" r="3.1" fill="#f2dfcf"/><circle cx="-7.2" cy="0" r="3.1" fill="#f2dfcf"/><circle cx="-3.6" cy="-5.3" r="3.1" fill="#f2dfcf"/><circle cx="3.6" cy="-5.3" r="3.1" fill="#f2dfcf"/><circle cx="12.4" cy="2.8" r="3.1" fill="#f2dfcf"/><circle cx="9.1" cy="7.7" r="3.1" fill="#f2dfcf"/><circle cx="3.3" cy="10.5" r="3.1" fill="#f2dfcf"/><circle cx="-3.3" cy="10.5" r="3.1" fill="#f2dfcf"/><circle cx="-9" cy="7.7" r="3.1" fill="#f2dfcf"/><circle cx="-12.4" cy="2.8" r="3.1" fill="#f2dfcf"/><circle cx="-12.4" cy="-2.8" r="3.1" fill="#f2dfcf"/><circle cx="-9.1" cy="-7.7" r="3.1" fill="#f2dfcf"/><circle cx="-3.3" cy="-10.5" r="3.1" fill="#f2dfcf"/><circle cx="3.3" cy="-10.5" r="3.1" fill="#f2dfcf"/><circle cx="9" cy="-7.7" r="3.1" fill="#f2dfcf"/><circle cx="12.4" cy="-2.8" r="3.1" fill="#f2dfcf"/></g><g transform="translate(686,428) rotate(28.6)"><rect x="-28" y="0" width="56" height="123.1" fill="#2596c4"/><rect x="0" y="10" width="8" height="100" fill="#34a4d2"/><ellipse rx="28" ry="14" fill="#36a4d2"/></g><g transform="translate(724,320) rotate(25.5)"><path d="M-12.5,0 L12.5,0 L14.4,93 L-14.4,93 Z" fill="url(#pS)"/><ellipse rx="12.5" ry="10.6" fill="#7a5e50"/><circle cx="0" cy="0" r="2.4" fill="#f2dfcf"/><circle cx="5.6" cy="0" r="2.4" fill="#f2dfcf"/><circle cx="2.8" cy="4.1" r="2.4" fill="#f2dfcf"/><circle cx="-2.8" cy="4.1" r="2.4" fill="#f2dfcf"/><circle cx="-5.6" cy="0" r="2.4" fill="#f2dfcf"/><circle cx="-2.8" cy="-4.1" r="2.4" fill="#f2dfcf"/><circle cx="2.8" cy="-4.1" r="2.4" fill="#f2dfcf"/><circle cx="9.7" cy="2.2" r="2.4" fill="#f2dfcf"/><circle cx="7.1" cy="6" r="2.4" fill="#f2dfcf"/><circle cx="2.6" cy="8.2" r="2.4" fill="#f2dfcf"/><circle cx="-2.6" cy="8.2" r="2.4" fill="#f2dfcf"/><circle cx="-7.1" cy="6" r="2.4" fill="#f2dfcf"/><circle cx="-9.7" cy="2.2" r="2.4" fill="#f2dfcf"/><circle cx="-9.7" cy="-2.2" r="2.4" fill="#f2dfcf"/><circle cx="-7.1" cy="-6" r="2.4" fill="#f2dfcf"/><circle cx="-2.6" cy="-8.2" r="2.4" fill="#f2dfcf"/><circle cx="2.6" cy="-8.2" r="2.4" fill="#f2dfcf"/><circle cx="7.1" cy="-6" r="2.4" fill="#f2dfcf"/><circle cx="9.7" cy="-2.2" r="2.4" fill="#f2dfcf"/></g><g transform="translate(729,366) rotate(28.6)"><path d="M-12.5,0 L12.5,0 L14.4,77.4 L-14.4,77.4 Z" fill="url(#pS)"/><ellipse rx="12.5" ry="10.6" fill="#7a5e50"/><circle cx="0" cy="0" r="2.4" fill="#f2dfcf"/><circle cx="5.6" cy="0" r="2.4" fill="#f2dfcf"/><circle cx="2.8" cy="4.1" r="2.4" fill="#f2dfcf"/><circle cx="-2.8" cy="4.1" r="2.4" fill="#f2dfcf"/><circle cx="-5.6" cy="0" r="2.4" fill="#f2dfcf"/><circle cx="-2.8" cy="-4.1" r="2.4" fill="#f2dfcf"/><circle cx="2.8" cy="-4.1" r="2.4" fill="#f2dfcf"/><circle cx="9.7" cy="2.2" r="2.4" fill="#f2dfcf"/><circle cx="7.1" cy="6" r="2.4" fill="#f2dfcf"/><circle cx="2.6" cy="8.2" r="2.4" fill="#f2dfcf"/><circle cx="-2.6" cy="8.2" r="2.4" fill="#f2dfcf"/><circle cx="-7.1" cy="6" r="2.4" fill="#f2dfcf"/><circle cx="-9.7" cy="2.2" r="2.4" fill="#f2dfcf"/><circle cx="-9.7" cy="-2.2" r="2.4" fill="#f2dfcf"/><circle cx="-7.1" cy="-6" r="2.4" fill="#f2dfcf"/><circle cx="-2.6" cy="-8.2" r="2.4" fill="#f2dfcf"/><circle cx="2.6" cy="-8.2" r="2.4" fill="#f2dfcf"/><circle cx="7.1" cy="-6" r="2.4" fill="#f2dfcf"/><circle cx="9.7" cy="-2.2" r="2.4" fill="#f2dfcf"/></g><path d="M542,567 L603,523 C620,530 640,536 658,538 C650,552 638,565 632,578 C626,595 620,612 614,632 C610,645 604,665 594,680 C585,695 578,702 568,708 C550,720 535,728 520,733 L493,724 Z" fill="#238fbc"/><path d="M603,523 Q628,546 658,538" stroke="#176e94" stroke-width="3" fill="none"/><path d="M508.4,459 C515.6,436.7 515.5,446.2 521.6,446 C527.7,445.8 537.1,451.4 545,458 C552.9,464.6 568.9,465.5 568.9,485.8 C568.9,506.1 555.5,541.3 545,580 C534.5,618.7 518.5,693.3 506,718 C493.5,742.7 483.5,729.3 470,728 C456.5,726.7 423.6,734.7 425,710 C426.4,685.3 464.3,621.8 478.2,580 C492.1,538.2 501.2,481.3 508.4,459Z" fill="#68d020" /><path d="M500,560 Q485,640 448,712" stroke="#8ee84a" stroke-width="10" fill="none" stroke-linecap="round"/><ellipse cx="539" cy="466" rx="31" ry="16" transform="rotate(25 539 466)" fill="#62c41d" /><path d="M354,632 C358,655 362,668 366,672 C380,688 405,703 431,711 C460,722 500,732 530,731 C555,729 585,716 598,707 L544.6,788 C520,828 500,844 470,845 C440,846 400,830 371,821.3 C340,812 310,800 292,781 C294,760 315,720 325.8,702 C335,685 345,660 354,632 Z" fill="url(#gFf)"/><path d="M308,660 C318,652 340,646 356,644 C345,665 335,680 327,695 C315,718 300,745 292,762 C286,770 276,770 268,762 C262,752 270,735 282,712 Z" fill="#4a4036"/><line x1="322" y1="662" x2="266" y2="757" stroke="#c8a070" stroke-width="2.2" stroke-linecap="round"/><line x1="324.3" y1="661.5" x2="268.3" y2="757.8" stroke="#f2e2c8" stroke-width="2.2" stroke-linecap="round"/><line x1="326.7" y1="661" x2="270.7" y2="758.6" stroke="#c8a070" stroke-width="2.2" stroke-linecap="round"/><line x1="329" y1="660.4" x2="273" y2="759.3" stroke="#f2e2c8" stroke-width="2.2" stroke-linecap="round"/><line x1="331.4" y1="659.9" x2="275.4" y2="760.1" stroke="#c8a070" stroke-width="2.2" stroke-linecap="round"/><line x1="333.7" y1="659.4" x2="277.7" y2="760.9" stroke="#f2e2c8" stroke-width="2.2" stroke-linecap="round"/><line x1="336" y1="658.9" x2="280" y2="761.7" stroke="#c8a070" stroke-width="2.2" stroke-linecap="round"/><line x1="338.4" y1="658.4" x2="282.4" y2="762.5" stroke="#f2e2c8" stroke-width="2.2" stroke-linecap="round"/><line x1="340.7" y1="657.8" x2="284.7" y2="763.2" stroke="#c8a070" stroke-width="2.2" stroke-linecap="round"/><path d="M222,690 C222,700 224,703 227.8,703 C236,730 250,748 267,762.8 C290,786 325,807 371,821.3 C400,830 440,846 470,845 C500,844 520,828 544.6,788 L598,707" fill="none" stroke="#333" stroke-width="4"/><line x1="772" y1="470.9" x2="572.9" y2="470.9" stroke="#111" stroke-width="2.4" stroke-dasharray="11.5 4.8"/><line x1="775.3" y1="677.6" x2="330.1" y2="677.6" stroke="#111" stroke-width="2.4" stroke-dasharray="11.5 4.8"/><line x1="779.5" y1="813.3" x2="379.7" y2="813.3" stroke="#111" stroke-width="2.4" stroke-dasharray="11.5 4.8"/><line x1="774" y1="988.2" x2="245.4" y2="988.2" stroke="#111" stroke-width="2.4" stroke-dasharray="11.5 4.8"/><line x1="770" y1="1219.2" x2="75.5" y2="1219.2" stroke="#111" stroke-width="2.4" stroke-dasharray="11.5 4.8"/><circle cx="560.9" cy="470.9" r="12.4" fill="#e6e6e6" stroke="#222" stroke-opacity="0.5" stroke-width="1"/><circle cx="560.9" cy="470.9" r="6.3" fill="#00d757"/><circle cx="318.1" cy="677.6" r="12.4" fill="#e6e6e6" stroke="#222" stroke-opacity="0.5" stroke-width="1"/><circle cx="318.1" cy="677.6" r="6.3" fill="#00d757"/><circle cx="367.7" cy="813.3" r="12.4" fill="#e6e6e6" stroke="#222" stroke-opacity="0.5" stroke-width="1"/><circle cx="367.7" cy="813.3" r="6.3" fill="#00d757"/><circle cx="233.4" cy="988.2" r="12.4" fill="#e6e6e6" stroke="#222" stroke-opacity="0.5" stroke-width="1"/><circle cx="233.4" cy="988.2" r="6.3" fill="#00d757"/><circle cx="63.5" cy="1219.2" r="12.4" fill="#e6e6e6" stroke="#222" stroke-opacity="0.5" stroke-width="1"/><circle cx="63.5" cy="1219.2" r="6.3" fill="#00d757"/></svg>

<div class="t" style="left:233px;top:-4px;font-weight:bold;font-size:78px;letter-spacing:-0.58px">Multilayer Shielding</div>
<div class="t" style="left:224px;top:103px;font-size:42px;letter-spacing:1.28px">Ensure the stable signal transmission</div>
<div class="l" style="left:814px;top:452px">Tinned Wire</div>
<div class="l" style="left:813px;top:649px;letter-spacing:-2.7px">GND</div>
<div class="l" style="left:813px;top:778px;letter-spacing:0.6px">Aluminum-foil</div>
<div class="l" style="left:812px;top:818px;letter-spacing:0.26px">Shielding</div>
<div class="l" style="left:811px;top:963px;letter-spacing:0.3px">Braided</div>
<div class="l" style="left:811px;top:1003px;letter-spacing:0.25px">Shielding</div>
<div class="l" style="left:809px;top:1198px;letter-spacing:-0.25px">PVC Jacket</div>

</body></html>
